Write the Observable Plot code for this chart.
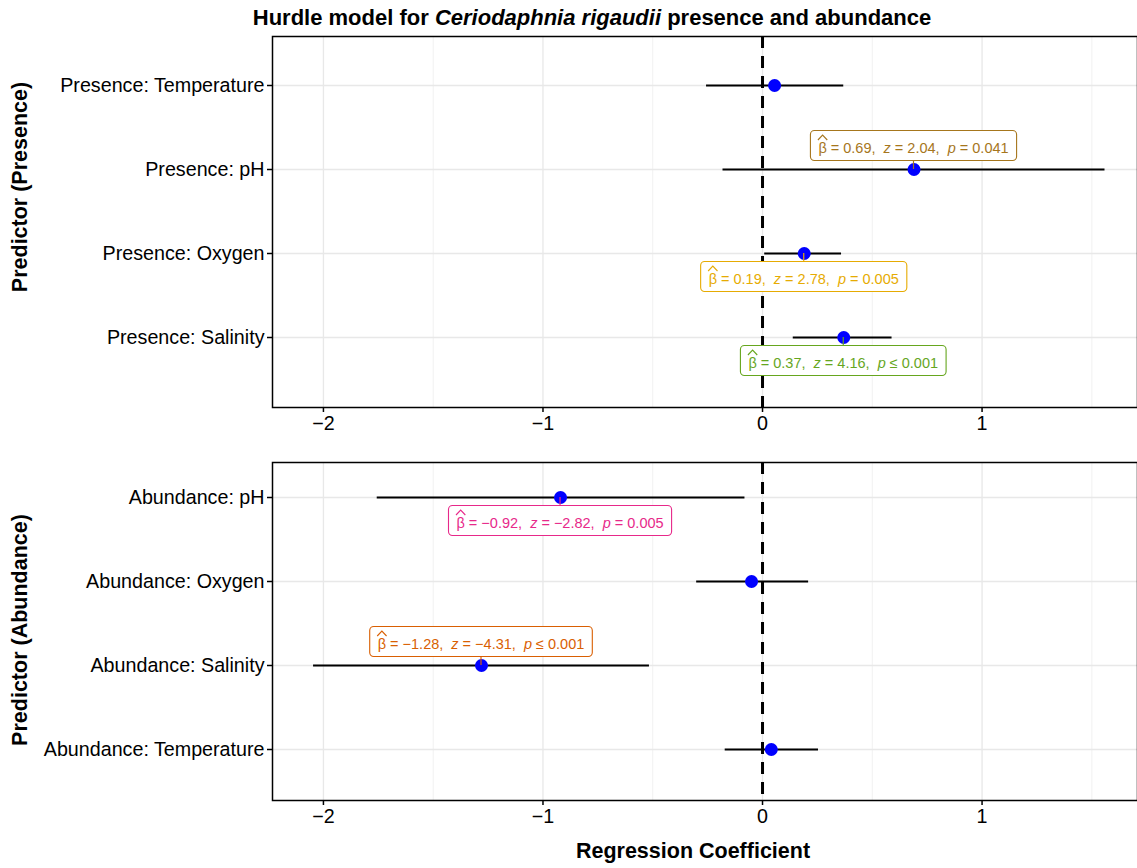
<!DOCTYPE html>
<html><head><meta charset="utf-8">
<script src="https://cdn.jsdelivr.net/npm/d3@7"></script>
<script src="https://cdn.jsdelivr.net/npm/@observablehq/plot@0.6"></script>
<style>
body{margin:0;background:#fff;font-family:"Liberation Sans",Arial,Helvetica,sans-serif;}
#root{position:relative;width:1137px;height:868px;overflow:hidden;background:#fff;}
.abs{position:absolute;white-space:nowrap;color:#000;}
.ttl{font-weight:bold;font-size:21.5px;}
</style></head><body><div id="root"></div>
<script>
// ---- data ----
const presenceTerms = ["Temperature", "pH", "Oxygen", "Salinity"];
const presenceEst = [0.055, 0.69, 0.19, 0.37];
const presenceLo = [-0.255, -0.18, 0.01, 0.14];
const presenceHi = [0.37, 1.56, 0.36, 0.59];
const presenceBeta = [null, "0.69", "0.19", "0.37"];
const presenceZ = [null, "2.04", "2.78", "4.16"];
const presenceP = [null, "= 0.041", "= 0.005", "≤ 0.001"];
const presenceSide = [0, -1, 1, 1];
const presenceColor = [null, "#A6761D", "#E6AB02", "#66A61E"];

const abundanceTerms = ["pH", "Oxygen", "Salinity", "Temperature"];
const abundanceEst = [-0.92, -0.05, -1.28, 0.04];
const abundanceLo = [-1.755, -0.30, -2.045, -0.17];
const abundanceHi = [-0.08, 0.21, -0.515, 0.255];
const abundanceBeta = ["−0.92", null, "−1.28", null];
const abundanceZ = ["−2.82", null, "−4.31", null];
const abundanceP = ["= 0.005", null, "≤ 0.001", null];
const abundanceSide = [1, 0, -1, 0];
const abundanceColor = ["#E7298A", null, "#D95F02", null];

const xTicks = [-2, -1, 0, 1];
const xMinor = [-1.5, -0.5, 0.5, 1.5];

const FONT = '"Liberation Sans", Arial, Helvetica, sans-serif';
const root = document.getElementById("root");

function panel(cfg) {
  const data = cfg.terms.map((t, i) => ({term: t, est: cfg.est[i], lo: cfg.lo[i], hi: cfg.hi[i]}));
  const plot = Plot.plot({
    width: 1137, height: cfg.height,
    marginLeft: 272, marginRight: 0, marginTop: cfg.marginTop, marginBottom: cfg.marginBottom,
    style: {fontFamily: FONT, fontSize: "19.7px", color: "black", background: "white", overflow: "visible"},
    x: {domain: [-2.232, 1.708]},
    y: {type: "point", domain: cfg.terms, range: cfg.yRange, padding: 0},
    marks: [
      Plot.gridX(xMinor, {stroke: "#EBEBEB", strokeOpacity: 1, strokeWidth: 0.7}),
      Plot.gridX(xTicks, {stroke: "#E8E8E8", strokeOpacity: 1, strokeWidth: 1.3}),
      Plot.gridY(cfg.terms, {stroke: "#E8E8E8", strokeOpacity: 1, strokeWidth: 1.3}),
      Plot.ruleX([0], {stroke: "black", strokeWidth: 3, strokeDasharray: "12,8"}),
      Plot.ruleY(data, {y: "term", x1: "lo", x2: "hi", stroke: "black", strokeWidth: 2}),
      Plot.dot(data, {x: "est", y: "term", r: 6.5, fill: "blue"}),
      Plot.frame({stroke: "black", strokeWidth: 1.5}),
      Plot.axisX(xTicks, {tickFormat: d => d < 0 ? "\u2212" + Math.abs(d) : String(d), tickSize: 5, tickPadding: 3, label: null, fontSize: 19.7, stroke: "black", strokeWidth: 1.5}),
      Plot.axisY(cfg.terms, {tickFormat: d => cfg.prefix + d, tickSize: 5, tickPadding: 3, label: null, fontSize: 19.7, stroke: "black", strokeWidth: 1.5})
    ]
  });
  plot.style.position = "absolute";
  plot.style.left = "0px";
  plot.style.top = cfg.top + "px";
  root.appendChild(plot);

  // labels (annotation boxes) positioned with the plot's scales
  const sx = plot.scale("x"), sy = plot.scale("y");
  const g = d3.select(plot).append("g").attr("font-family", FONT).attr("font-size", 14.5);
  cfg.terms.forEach((t, i) => {
    if (!cfg.beta[i]) return;
    const px = sx.apply(cfg.est[i]), py = sy.apply(t);
    const side = cfg.side[i], col = cfg.color[i];
    const cy = py + side * 23.5;
    const lg = g.append("g");
    const rect = lg.append("rect");
    const text = lg.append("text").attr("x", px).attr("y", cy).attr("dy", "0.5em")
      .attr("text-anchor", "middle").attr("fill", col).style("white-space", "pre");
    text.append("tspan").text("\u03B2 = " + cfg.beta[i] + ",  ");
    text.append("tspan").attr("font-style", "italic").text("z");
    text.append("tspan").text(" = " + cfg.z[i] + ",  ");
    text.append("tspan").attr("font-style", "italic").text("p");
    text.append("tspan").text(" " + cfg.p[i]);
    const bb = text.node().getBBox();
    rect.attr("x", bb.x - 8).attr("width", bb.width + 16).attr("y", cy - 15).attr("height", 30)
      .attr("rx", 4).attr("fill", "white").attr("stroke", col).attr("stroke-width", 1.1);
    // hat over beta
    const ext = text.node().getExtentOfChar(0);
    const hx0 = ext.x - 0.5, hx1 = ext.x + ext.width + 0.5, hy = cy - 5.5;
    lg.append("path").attr("d", `M${hx0},${hy} L${(hx0 + hx1) / 2},${hy - 5} L${hx1},${hy}`)
      .attr("fill", "none").attr("stroke", col).attr("stroke-width", 1.1);
    g.append("line").attr("x1", px).attr("x2", px).attr("y1", py).attr("y2", cy - side * 15)
      .attr("stroke", col).attr("stroke-width", 1.2);
  });
}

panel({terms: presenceTerms, est: presenceEst, lo: presenceLo, hi: presenceHi,
  beta: presenceBeta, z: presenceZ, p: presenceP, side: presenceSide, color: presenceColor,
  prefix: "Presence: ", top: 0, height: 430, marginTop: 36, marginBottom: 23, yRange: [84, 337]});

panel({terms: abundanceTerms, est: abundanceEst, lo: abundanceLo, hi: abundanceHi,
  beta: abundanceBeta, z: abundanceZ, p: abundanceP, side: abundanceSide, color: abundanceColor,
  prefix: "Abundance: ", top: 430, height: 438, marginTop: 32, marginBottom: 68, yRange: [66, 319]});

function addDiv(html, cls, css) {
  const d = document.createElement("div");
  d.className = "abs " + cls;
  d.innerHTML = html;
  Object.assign(d.style, css);
  root.appendChild(d);
}
addDiv("Hurdle model for <i>Ceriodaphnia rigaudii</i> presence and abundance", "ttl",
  {left: "592px", top: "18px", transform: "translate(-50%,-50%)", fontSize: "22px"});
addDiv("Predictor (Presence)", "ttl",
  {left: "20px", top: "187px", transform: "translate(-50%,-50%) rotate(-90deg)"});
addDiv("Predictor (Abundance)", "ttl",
  {left: "20px", top: "630px", transform: "translate(-50%,-50%) rotate(-90deg)"});
addDiv("Regression Coefficient", "ttl",
  {left: "693px", top: "851px", transform: "translate(-50%,-50%)"});
</script>
</body></html>
